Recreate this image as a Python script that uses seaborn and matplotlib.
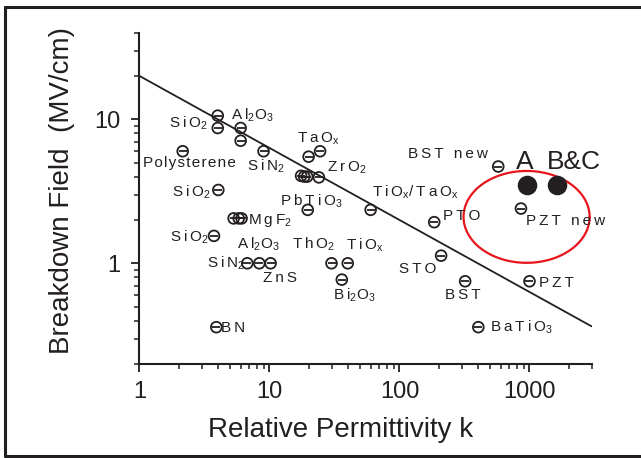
import numpy as np
import pandas as pd
import seaborn as sns
import matplotlib.pyplot as plt
from matplotlib.lines import Line2D
from matplotlib.ticker import LogLocator, NullFormatter, FixedLocator, FixedFormatter

# datos (permitividad relativa k, campo de ruptura MV/cm)
puntos_k = [4.0, 4.0, 6.0, 6.0, 9.0, 2.15, 20.0, 24.5, 17.5, 18.5, 19.5, 24.0,
            4.04, 19.7, 5.3, 5.8, 6.1, 3.74, 6.75, 8.35, 10.2, 30.0, 40.0, 36.0,
            3.9, 575, 860, 185, 60, 209, 320, 1000, 404]
puntos_E = [10.6, 8.7, 8.7, 7.1, 6.0, 6.0, 5.5, 6.0, 4.05, 4.0, 4.0, 3.95,
            3.23, 2.35, 2.05, 2.05, 2.05, 1.55, 1.0, 1.0, 1.0, 1.0, 1.0, 0.77,
            0.36, 4.7, 2.4, 1.93, 2.35, 1.13, 0.75, 0.75, 0.36]

nuevos_k = [960, 1620]
nuevos_E = [3.5, 3.5]

recta_k = [1, 3000]
recta_E = [20.0, 0.365]

# etiquetas: texto, k, E (esquina izquierda / linea base)
etiquetas = [
    ("SiO$_2$", 1.69, 8.70), ("Al$_2$O$_3$", 5.06, 9.89),
    ("Polysterene", 1.06, 4.66), ("SiN$_2$", 6.71, 4.38),
    ("TaO$_x$", 16.3, 6.85), ("ZrO$_2$", 27.7, 4.30),
    ("SiO$_2$", 1.78, 2.89), ("PbTiO$_3$", 12.0, 2.50),
    ("MgF$_2$", 6.83, 1.87), ("SiO$_2$", 1.72, 1.41),
    ("Al$_2$O$_3$", 5.62, 1.257), ("ThO$_2$", 14.9, 1.257),
    ("TiO$_x$", 38.8, 1.237), ("SiN$_2$", 3.31, 0.928),
    ("ZnS", 8.91, 0.742), ("Bi$_2$O$_3$", 30.8, 0.556),
    ("BN", 4.24, 0.334), ("TiO$_x$/TaO$_x$", 61.4, 2.89),
    ("BST new", 116, 5.39), ("PTO", 216, 2.00),
    ("PZT new", 940, 1.85), ("STO", 99.1, 0.857),
    ("BST", 224, 0.565), ("PZT", 1183, 0.685),
    ("BaTiO$_3$", 497, 0.334),
]
etiquetas_grandes = [("A", 787, 4.52), ("B&C", 1364, 4.52)]

# elipse roja (centro en k, E y semiejes en decadas)
elipse_centro = (950, 2.1)
elipse_semiejes = (0.485, 0.319)


def espaciar(texto, sep='\u2009'):
    # separa las letras fuera de $...$ con un espacio fino, como en el original
    partes = texto.split('$')
    for i in range(0, len(partes), 2):
        partes[i] = sep.join(partes[i])
    return '$'.join(partes)


sns.set_theme(style="ticks")
plt.rcParams['font.family'] = ['Liberation Sans', 'DejaVu Sans']
plt.rcParams['mathtext.fontset'] = 'custom'
plt.rcParams['mathtext.rm'] = 'Liberation Sans'
plt.rcParams['mathtext.default'] = 'regular'

color_texto = '#231f20'

fig = plt.figure(figsize=(6.41, 4.58), dpi=100)
ax = fig.add_axes([0.2176, 0.2054, 0.7052, 0.7234])

df = pd.DataFrame({"k": puntos_k, "E": puntos_E})
sns.lineplot(x=recta_k, y=recta_E, ax=ax, color=color_texto, linewidth=1.3)
sns.scatterplot(data=df, x="k", y="E", ax=ax, marker="o", s=60,
                facecolor="none", edgecolor=color_texto, linewidth=1.3, zorder=3)
sns.scatterplot(data=df, x="k", y="E", ax=ax, marker="_", s=36,
                color=color_texto, linewidth=1.3, zorder=4)
sns.scatterplot(x=nuevos_k, y=nuevos_E, ax=ax, marker="o", s=170,
                color=color_texto, edgecolor=color_texto, zorder=4)

t = np.linspace(0, 2 * np.pi, 200)
ek = 10 ** (np.log10(elipse_centro[0]) + elipse_semiejes[0] * np.cos(t))
eE = 10 ** (np.log10(elipse_centro[1]) + elipse_semiejes[1] * np.sin(t))
ax.plot(ek, eE, color='#e8141c', linewidth=1.6, zorder=2)

for texto, k, E in etiquetas:
    sep = '\u200a' if texto == "Polysterene" else '\u2009'
    ax.text(k, E, espaciar(texto, sep), fontsize=11, color=color_texto,
            ha='left', va='baseline')
for texto, k, E in etiquetas_grandes:
    ax.text(k, E, texto, fontsize=19, color=color_texto, ha='left', va='baseline')

ax.set_xscale('log')
ax.set_yscale('log')
ax.set_xlim(1, 3000)
ax.set_ylim(0.2, 40)

ax.xaxis.set_major_locator(FixedLocator([1, 10, 100, 1000]))
ax.xaxis.set_major_formatter(FixedFormatter(["1", "10", "100", "1000"]))
ax.yaxis.set_major_locator(FixedLocator([1, 10]))
ax.yaxis.set_major_formatter(FixedFormatter(["1", "10"]))
ax.xaxis.set_minor_locator(LogLocator(base=10, subs=np.arange(2, 10)))
ax.yaxis.set_minor_locator(LogLocator(base=10, subs=np.arange(2, 10)))
ax.xaxis.set_minor_formatter(NullFormatter())
ax.yaxis.set_minor_formatter(NullFormatter())

ax.tick_params(which='major', length=6, width=1.3, labelsize=17,
               color=color_texto, labelcolor=color_texto)
ax.tick_params(which='minor', length=3.5, width=1.1, color=color_texto)
ax.tick_params(axis='y', which='major', pad=8)
ax.tick_params(axis='x', which='major', pad=6)

sns.despine(ax=ax)
for lado in ['left', 'bottom']:
    ax.spines[lado].set_linewidth(1.5)
    ax.spines[lado].set_color(color_texto)

ax.set_xlabel("Relative Permittivity k", fontsize=20, color=color_texto)
ax.set_ylabel("Breakdown Field  (MV/cm)", fontsize=20, color=color_texto)
ax.xaxis.set_label_coords(0.445, -0.2)
ax.xaxis.label.set_va('center')
ax.yaxis.set_label_coords(-0.171, 0.522)
ax.yaxis.label.set_va('center')

# marco exterior (sin lado derecho)
xi, ys, yi = 5 / 641, 1 - 6.5 / 458, 2 / 458
for xs_, ys_ in [([xi, xi], [yi, ys]), ([xi, 1], [ys, ys]), ([xi, 1], [yi, yi])]:
    fig.add_artist(Line2D(xs_, ys_, transform=fig.transFigure,
                          color=color_texto, linewidth=2.2))

plt.savefig("out.png", dpi=100)
plt.close()
